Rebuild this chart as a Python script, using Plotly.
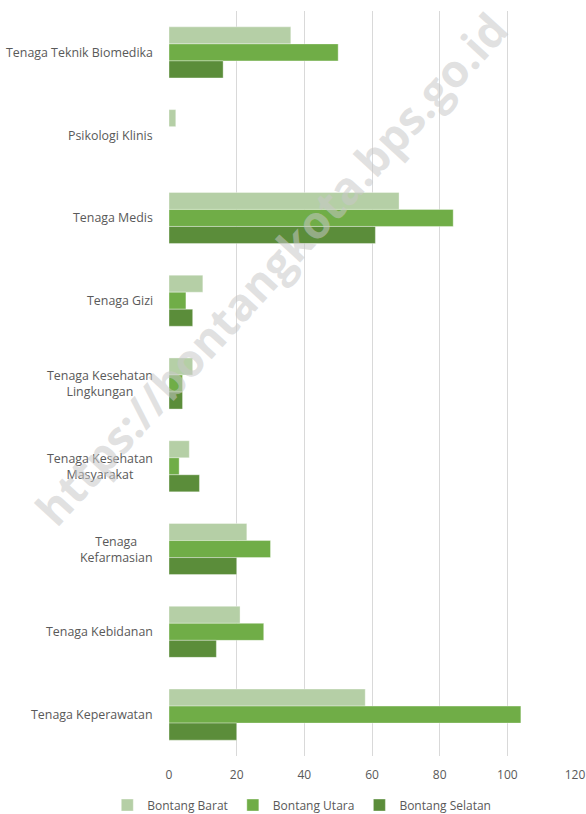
import plotly.graph_objects as go

categories = [
    "Tenaga Teknik Biomedika",
    "Psikologi Klinis",
    "Tenaga Medis",
    "Tenaga Gizi",
    "Tenaga Kesehatan Lingkungan",
    "Tenaga Kesehatan Masyarakat",
    "Tenaga Kefarmasian",
    "Tenaga Kebidanan",
    "Tenaga Keperawatan",
]
category_labels = [
    "Tenaga Teknik Biomedika",
    "Psikologi Klinis",
    "Tenaga Medis",
    "Tenaga Gizi",
    "Tenaga Kesehatan<br>Lingkungan",
    "Tenaga Kesehatan<br>Masyarakat",
    "Tenaga<br>Kefarmasian",
    "Tenaga Kebidanan",
    "Tenaga Keperawatan",
]
bontang_barat = [36, 2, 68, 10, 7, 6, 23, 21, 58]
bontang_utara = [50, 0, 84, 5, 4, 3, 30, 28, 104]
bontang_selatan = [16, 0, 61, 7, 4, 9, 20, 14, 20]
x_ticks = [0, 20, 40, 60, 80, 100, 120]

series = [
    ("Bontang Barat", bontang_barat, "#B5CFA6"),
    ("Bontang Utara", bontang_utara, "#70AD47"),
    ("Bontang Selatan", bontang_selatan, "#5B8D3A"),
]

fig = go.Figure()
for name, vals, color in series:
    fig.add_trace(go.Bar(
        y=categories, x=vals, name=name, orientation="h",
        marker=dict(color=color, line=dict(color="rgba(255,255,255,0.6)", width=0.6)),
    ))

font_family = "Open Sans, Noto Sans, sans-serif"
annotations = []
for cat, lab in zip(categories, category_labels):
    annotations.append(dict(
        x=-0.034, xref="paper", y=cat, yref="y", text=lab, showarrow=False,
        xanchor="right", yanchor="middle", align="center",
        font=dict(family=font_family, size=12.4, color="#595959"),
    ))
# watermark
annotations.append(dict(
    x=0.25, y=0.655, xref="paper", yref="paper",
    text="https://bontangkota.bps.go.id", showarrow=False, textangle=-47.6,
    font=dict(family=font_family, size=45, color="rgba(200,200,200,0.55)", weight="bold"),
    xanchor="center", yanchor="middle",
))

fig.update_layout(
    width=586, height=814,
    margin=dict(l=169, r=11, t=11, b=58, autoexpand=False),
    paper_bgcolor="white", plot_bgcolor="white",
    barmode="group", bargap=0.383, bargroupgap=0,
    font=dict(family=font_family, size=12, color="#595959"),
    showlegend=True,
    legend=dict(
        orientation="h", xref="container", x=0.515, xanchor="center",
        yref="container", y=0.011, yanchor="middle",
        font=dict(family=font_family, size=12, color="#595959"),
        itemwidth=30, traceorder="normal",
    ),
    annotations=annotations,
    xaxis=dict(
        range=[0, 120], tickvals=x_ticks, ticktext=[str(v) for v in x_ticks],
        showgrid=True, gridcolor="#D9D9D9", gridwidth=1,
        zeroline=False, showline=False, ticks="", automargin=False,
        ticklabelstandoff=10,
        tickfont=dict(family=font_family, size=12, color="#595959"),
    ),
    yaxis=dict(
        autorange="reversed", showticklabels=False, showgrid=False,
        zeroline=False, showline=False, ticks="", automargin=False,
    ),
)

fig.write_html(
    "out.html",
    config={"displayModeBar": False},
    post_script="document.body.style.margin='0';document.body.style.overflow='hidden';",
)
